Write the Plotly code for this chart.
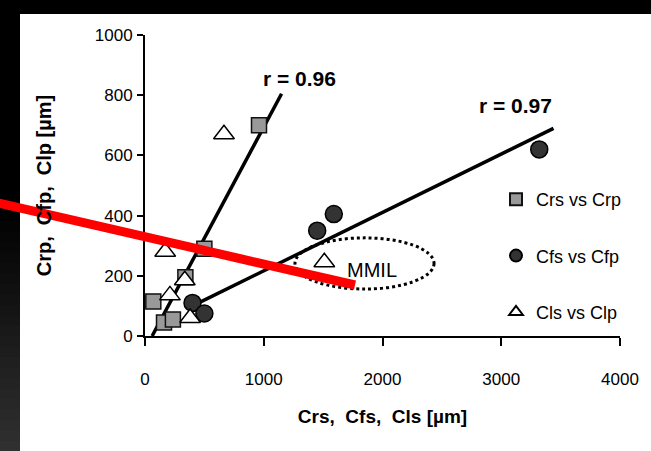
import plotly.graph_objects as go

# ---- data ----
crs_x = [960, 500, 340, 70, 160, 235]
crp_y = [700, 290, 195, 115, 45, 55]

cfs_x = [400, 500, 1450, 1590, 3320]
cfp_y = [110, 75, 350, 405, 620]

cls_x = [665, 170, 335, 210, 380, 1510]
clp_y = [670, 280, 185, 135, 60, 245]

fit_r_x = [60, 1150]
fit_r_y = [0, 805]
fit_f_x = [400, 3440]
fit_f_y = [100, 690]

r_labels = ["r = 0.96", "r = 0.97"]
r_label_x = [1305, 3116]
r_label_y = [857, 767]

series_names = ["Crs vs Crp", "Cfs vs Cfp", "Cls vs Clp"]
x_ticks = [0, 1000, 2000, 3000, 4000]
y_ticks = [0, 200, 400, 600, 800, 1000]

FONT = "Liberation Sans, Arial, sans-serif"

W, H = 651, 451
ML, MR, MT, MB = 145, 31, 35, 115
PW, PH = W - ML - MR, H - MT - MB


def px_to_paper_x(px):
    return (px - ML) / PW


def px_to_paper_y(py):
    return (H - MB - py) / PH


fig = go.Figure()

# regression lines
fig.add_trace(go.Scatter(x=fit_r_x, y=fit_r_y, mode="lines",
                         line=dict(color="black", width=3.5), showlegend=False, hoverinfo="skip"))
fig.add_trace(go.Scatter(x=fit_f_x, y=fit_f_y, mode="lines",
                         line=dict(color="black", width=3.5), showlegend=False, hoverinfo="skip"))

fig.add_trace(go.Scatter(x=crs_x, y=crp_y, mode="markers", name=series_names[0], legendgroup="a",
                         marker=dict(symbol="square", size=15, color="#999999",
                                     line=dict(color="#111111", width=1.5)), cliponaxis=False))
fig.add_trace(go.Scatter(x=cfs_x, y=cfp_y, mode="markers", name=series_names[1], legendgroup="b",
                         marker=dict(symbol="circle", size=17, color="#333333",
                                     line=dict(color="#000000", width=1.5)), cliponaxis=False))
fig.add_trace(go.Scatter(x=cls_x, y=clp_y, mode="markers", name=series_names[2], legendgroup="c",
                         marker=dict(symbol="triangle-up", size=18, color="white",
                                     line=dict(color="black", width=1.5)), cliponaxis=False))

shapes = []
# white panel over a black page
shapes.append(dict(type="rect", xref="paper", yref="paper", layer="below",
                   x0=px_to_paper_x(20), x1=px_to_paper_x(660),
                   y0=px_to_paper_y(460), y1=px_to_paper_y(14),
                   fillcolor="white", line=dict(width=0)))
# dark gradient on the left band
nb = 24
for i in range(nb):
    t = i / (nb - 1)
    top = 200 + i * (251 / nb)
    g = int(0 + 48 * t)
    shapes.append(dict(type="rect", xref="paper", yref="paper", layer="below",
                       x0=px_to_paper_x(-5), x1=px_to_paper_x(20),
                       y0=px_to_paper_y(top + 251 / nb + 1), y1=px_to_paper_y(top),
                       fillcolor=f"rgb({g},{g},{g})", line=dict(width=0)))
# dotted ellipse around MMIL
shapes.append(dict(type="circle", xref="x", yref="y", layer="above",
                   x0=1263, x1=2434, y0=156, y1=326,
                   line=dict(color="black", width=3, dash="dot")))
# red overlay stroke
shapes.append(dict(type="line", xref="paper", yref="paper", layer="above",
                   x0=px_to_paper_x(-2), y0=px_to_paper_y(203),
                   x1=px_to_paper_x(355), y1=px_to_paper_y(285),
                   line=dict(color="#ff0000", width=9)))

annotations = []
for t, ax_, ay_ in zip(r_labels, r_label_x, r_label_y):
    annotations.append(dict(x=ax_, y=ay_, xref="x", yref="y", text=f"<b>{t}</b>",
                            showarrow=False, font=dict(family=FONT, size=21, color="black")))
annotations.append(dict(x=1912, y=219, xref="x", yref="y", text="MMIL", showarrow=False,
                        font=dict(family=FONT, size=20, color="black")))

fig.update_layout(
    width=W, height=H,
    margin=dict(l=ML, r=MR, t=MT, b=MB, pad=0),
    paper_bgcolor="black", plot_bgcolor="white",
    shapes=shapes, annotations=annotations,
    showlegend=True,
    legend=dict(x=px_to_paper_x(496), y=px_to_paper_y(181), xanchor="left", yanchor="top",
                bgcolor="rgba(0,0,0,0)", font=dict(family=FONT, size=18, color="black"),
                tracegroupgap=30, itemsizing="constant"),
    font=dict(family=FONT, color="black"),
)

fig.update_xaxes(range=[0, 4000], tickvals=x_ticks, showgrid=False, zeroline=False,
                 showline=True, linecolor="black", linewidth=2,
                 ticks="outside", ticklen=8, tickwidth=1.5, tickcolor="black",
                 tickfont=dict(family=FONT, size=17, color="black"), ticklabelstandoff=19,
                 title=dict(text="<b>Crs,  Cfs,  Cls [µm]</b>", standoff=21,
                            font=dict(family=FONT, size=19, color="black")))
fig.update_yaxes(range=[0, 1000], tickvals=y_ticks, showgrid=False, zeroline=False,
                 showline=True, linecolor="black", linewidth=2,
                 ticks="outside", ticklen=6, tickwidth=1.5, tickcolor="black",
                 tickfont=dict(family=FONT, size=17, color="black"), ticklabelstandoff=1,
                 title=dict(text="<b>Crp,  Cfp,  Clp [µm]</b>", standoff=38,
                            font=dict(family=FONT, size=20, color="black")))

fig.write_html("out.html", config={"displayModeBar": False},
               post_script="document.body.style.margin='0';document.body.style.background='black';")
